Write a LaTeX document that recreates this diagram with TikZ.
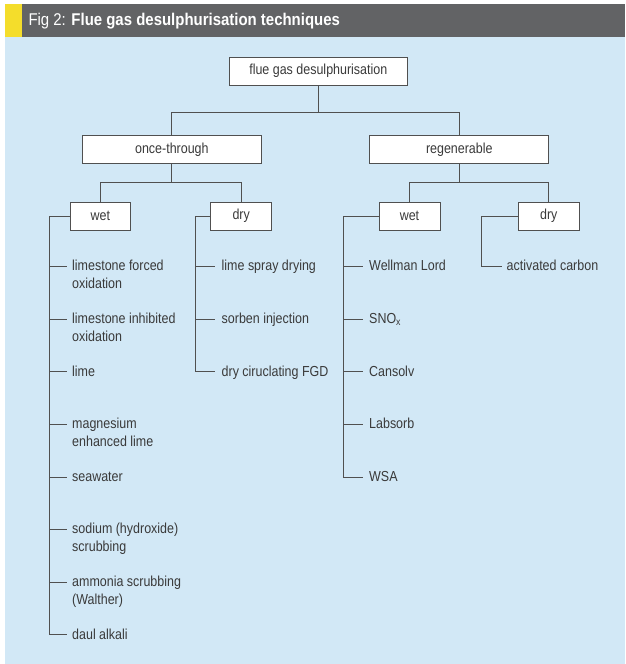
\documentclass[tikz,border=0pt]{standalone}
\usepackage{fontspec}
\setmainfont{Liberation Sans}
\newfontfamily\condfont[FakeStretch=0.86]{Liberation Sans}
\newfontfamily\headfont[FakeStretch=0.88]{Liberation Sans}
\definecolor{panel}{HTML}{D2E8F6}
\definecolor{headbar}{HTML}{626365}
\definecolor{accent}{HTML}{F4DD2B}
\definecolor{ink}{HTML}{3A3A3A}
\definecolor{wirecol}{HTML}{505050}
\newcommand\leaftext[1]{\begin{tabular}[t]{@{}l@{}}#1\end{tabular}}

\begin{document}
\begin{tikzpicture}[x=1pt,y=-1pt,
  catbox/.style={draw=wirecol, line width=1pt, fill=white, minimum height=27.7pt,
    inner sep=0pt, text=ink, font=\condfont\fontsize{14.5}{17.7}\selectfont},
  leaf/.style={anchor=base west, inner sep=0pt, text=ink,
    font=\condfont\fontsize{14.5}{17.7}\selectfont},
  link/.style={draw=wirecol, line width=1pt}]

% frame: page, header bar and panel
\useasboundingbox (0,0) rectangle (625,664);
\fill[panel] (5,36.7) rectangle (625,664);
\fill[headbar] (21.7,4) rectangle (625,36.7);
\fill[accent] (5,4) rectangle (21.7,36.7);
\node[anchor=base west, inner sep=0pt, text=white,
  font=\headfont\fontsize{17}{20}\selectfont] (title) at (28.3,25)
  {Fig 2: \textbf{Flue gas desulphurisation techniques}};

% category boxes
\node[catbox, minimum width=178pt]   (root)  at (318.3,71.2)  {flue gas desulphurisation};
\node[catbox, minimum width=178.3pt] (once)  at (171.85,149.6) {once-through};
\node[catbox, minimum width=178.7pt] (regen) at (459.3,149.6) {regenerable};
\node[catbox, minimum width=60.7pt]  (wetL)  at (100.35,216.2) {wet};
\node[catbox, minimum width=61pt]    (dryL)  at (241.2,216.2)  {dry};
\node[catbox, minimum width=61pt]    (wetR)  at (409.5,216.2)  {wet};
\node[catbox, minimum width=61pt]    (dryR)  at (548.8,216.2)  {dry};

% tree connectors
\coordinate (busTop) at (318.3,112.3);
\coordinate (busOnce) at (171.85,182.7);
\coordinate (busRegen) at (459.3,182.7);
\draw[link] (root.south) -- (busTop);
\draw[link] (once.north) |- (busTop) -| (regen.north);
\draw[link] (once.south) -- (busOnce);
\draw[link] (wetL.north) |- (busOnce) -| (dryL.north);
\draw[link] (regen.south) -- (busRegen);
\draw[link] (wetR.north) |- (busRegen) -| (dryR.north);

% leaves: once-through / wet
\foreach \i/\y/\txt in {
  1/266.7/{limestone forced\\oxidation},
  2/319.3/{limestone inhibited\\oxidation},
  3/371.9/{lime},
  4/424.5/{magnesium\\enhanced lime},
  5/477.1/{seawater},
  6/529.7/{sodium (hydroxide)\\scrubbing},
  7/582.3/{ammonia scrubbing\\(Walther)},
  8/634.9/{daul alkali}} {
  \coordinate (owS\i) at (49,\y);
  \coordinate (owT\i) at (66.7,\y);
  \node[leaf] (ow\i) at (72,\y+4.2) {\leaftext{\txt}};
  \draw[link] (owS\i) -- (owT\i);
}
\draw[link] (wetL.west) -| (owS8);

% leaves: once-through / dry
\foreach \i/\y/\txt in {
  1/266.7/{lime spray drying},
  2/319.3/{sorben injection},
  3/371.9/{dry ciruclating FGD}} {
  \coordinate (odS\i) at (195.7,\y);
  \coordinate (odT\i) at (215,\y);
  \node[leaf] (od\i) at (221.5,\y+4.2) {\leaftext{\txt}};
  \draw[link] (odS\i) -- (odT\i);
}
\draw[link] (dryL.west) -| (odS3);

% leaves: regenerable / wet
\foreach \i/\y/\txt in {
  1/266.7/{Wellman Lord},
  2/319.3/{SNO\textsubscript{x}},
  3/371.9/{Cansolv},
  4/424.5/{Labsorb},
  5/477.1/{WSA}} {
  \coordinate (rwS\i) at (343.3,\y);
  \coordinate (rwT\i) at (363.3,\y);
  \node[leaf] (rw\i) at (369,\y+4.2) {\leaftext{\txt}};
  \draw[link] (rwS\i) -- (rwT\i);
}
\draw[link] (wetR.west) -| (rwS5);

% leaves: regenerable / dry
\coordinate (rdS1) at (481.7,266.7);
\coordinate (rdT1) at (501.7,266.7);
\node[leaf] (rd1) at (506.5,270.9) {\leaftext{activated carbon}};
\draw[link] (dryR.west) -| (rdS1) -- (rdT1);
\end{tikzpicture}
\end{document}
